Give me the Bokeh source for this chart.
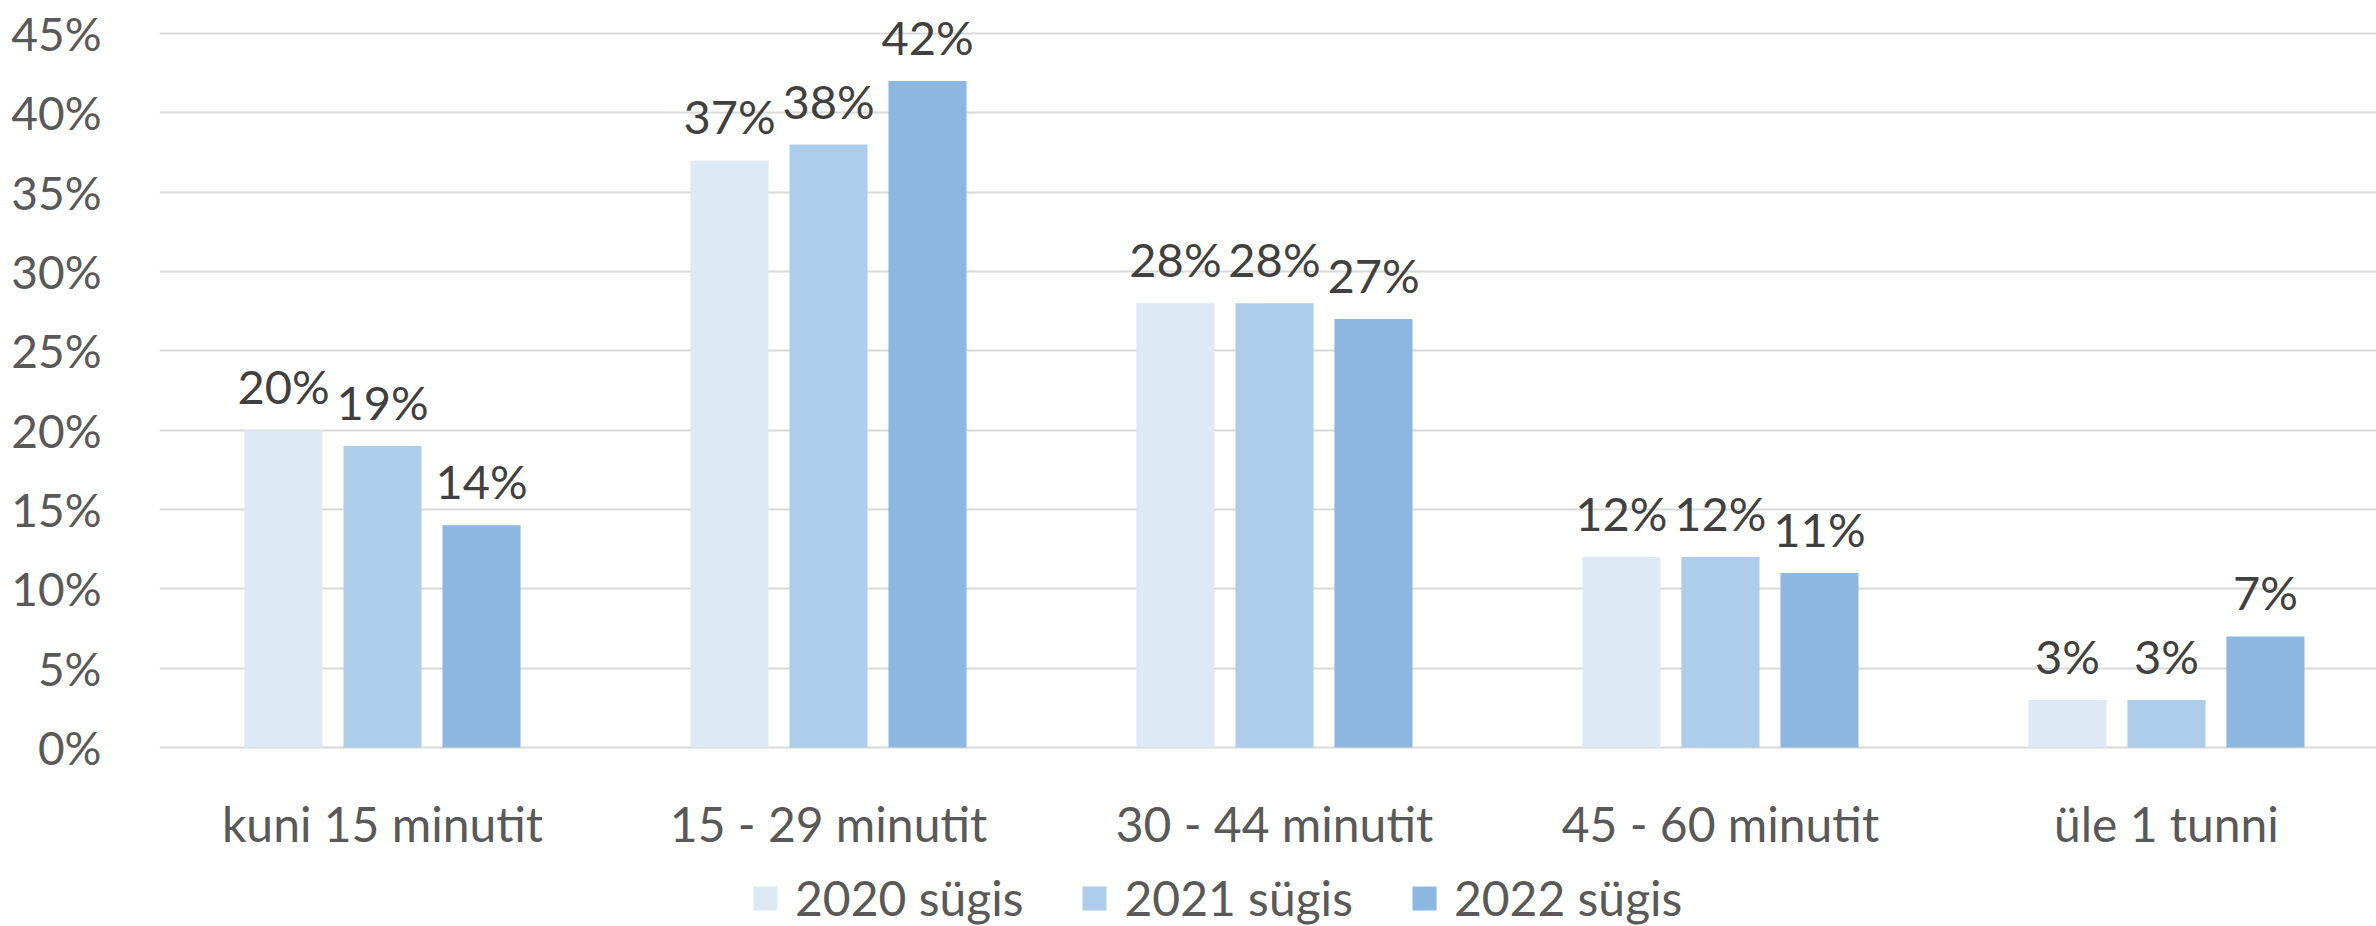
from bokeh.plotting import figure
from bokeh.models import (ColumnDataSource, Range1d, FixedTicker, PrintfTickFormatter,
                          LabelSet, Legend, LegendItem)
from bokeh.core.properties import value
from bokeh.transform import dodge
from bokeh.embed import file_html
from bokeh.resources import INLINE

categories = ["kuni 15 minutit", "15 - 29 minutit", "30 - 44 minutit", "45 - 60 minutit", "üle 1 tunni"]
series_names = ["2020 sügis", "2021 sügis", "2022 sügis"]
values_2020 = [20, 37, 28, 12, 3]
values_2021 = [19, 38, 28, 12, 3]
values_2022 = [14, 42, 27, 11, 7]
y_ticks = [0, 5, 10, 15, 20, 25, 30, 35, 40, 45]

colors = ["#DDE9F5", "#AECDEA", "#8BB7E0"]
FONT = "Lato"

xpos = [i + 0.5 for i in range(len(categories))]
src = ColumnDataSource(dict(
    x=xpos, cat=categories, base=[0] * len(categories),
    v0=values_2020, v1=values_2021, v2=values_2022,
    l0=[f"{v}%" for v in values_2020],
    l1=[f"{v}%" for v in values_2021],
    l2=[f"{v}%" for v in values_2022],
))

p = figure(width=2376, height=926, output_backend="svg", toolbar_location=None,
           x_range=Range1d(0, 4.971), y_range=Range1d(-11.281, 47.079),
           x_axis_location=None,
           min_border_left=159, min_border_right=0, min_border_top=0, min_border_bottom=0)
p.outline_line_color = None
p.background_fill_color = "white"
p.border_fill_color = "white"

offsets = [-0.222, 0.0, 0.222]
renderers = []
for k in range(3):
    r = p.vbar(x=dodge("x", offsets[k], range=p.x_range), top=f"v{k}", width=0.175,
               source=src, fill_color=colors[k], line_color=None)
    renderers.append(r)
    lab = LabelSet(x=dodge("x", offsets[k], range=p.x_range), y=f"v{k}", text=f"l{k}",
                   source=src, y_offset=26, text_align="center", text_baseline="alphabetic",
                   text_font=value(FONT), text_font_size=value("47px"), text_color="#404040")
    p.add_layout(lab)

# category labels along the 0 line
p.text(x="x", y="base", text="cat", source=src, y_offset=76,
       text_align="center", text_baseline="alphabetic",
       text_font=value(FONT), text_font_size=value("48px"), text_color="#595959")

# axes / grid
p.xgrid.grid_line_color = None
p.ygrid.grid_line_color = "#D9D9D9"
p.ygrid.grid_line_width = 2
p.yaxis.ticker = FixedTicker(ticks=y_ticks)
p.yaxis.formatter = PrintfTickFormatter(format="%d%%")
p.yaxis.axis_line_color = None
p.yaxis.major_tick_line_color = None
p.yaxis.minor_tick_line_color = None
p.yaxis.major_label_standoff = 52
p.yaxis.major_label_text_font = FONT
p.yaxis.major_label_text_font_size = "46px"
p.yaxis.major_label_text_color = "#595959"

legend = Legend(items=[LegendItem(label=series_names[k], renderers=[renderers[k]]) for k in range(3)],
                orientation="horizontal", location=(591, 0),
                glyph_width=30, glyph_height=30, label_standoff=15, spacing=56,
                padding=0, margin=0, border_line_color=None, background_fill_alpha=0,
                label_text_font=FONT, label_text_font_size="48px", label_text_color="#595959")
p.add_layout(legend, "center")

open("out.html", "w").write(file_html(p, INLINE))
